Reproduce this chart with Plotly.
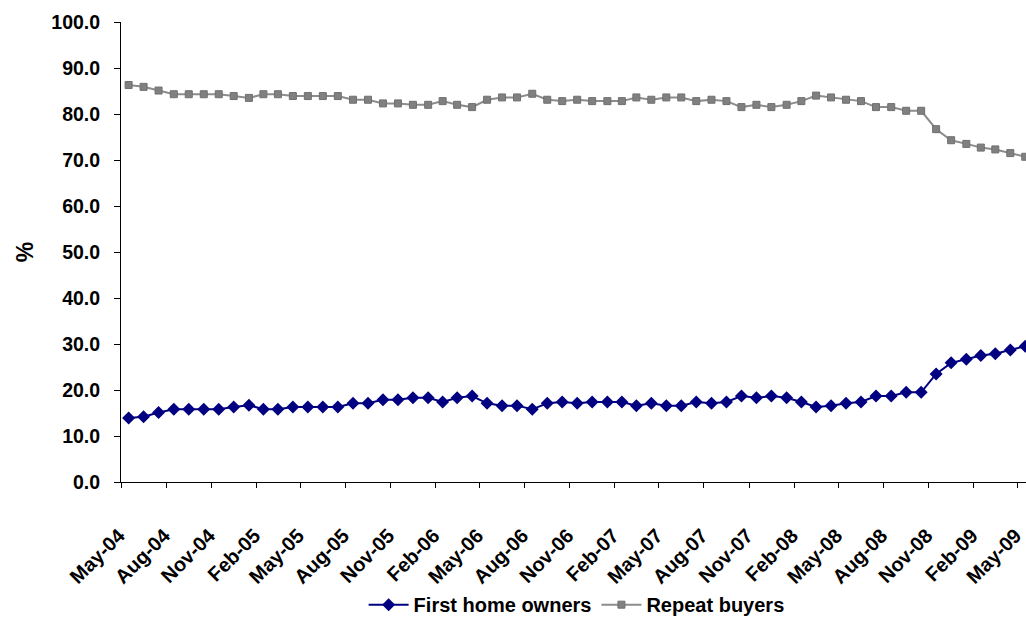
import pandas as pd
import plotly.graph_objects as go

# Monthly share of buyers, May 2004 - May 2009 (%)
start_month = "2004-05-01"
n_months = 61

first_home_owners = [
    13.9, 14.2, 15.1, 15.8, 15.8, 15.8, 15.8, 16.3, 16.7, 15.8,
    15.8, 16.3, 16.3, 16.3, 16.3, 17.1, 17.1, 17.9, 17.9, 18.3,
    18.3, 17.4, 18.3, 18.7, 17.1, 16.6, 16.6, 15.8, 17.1, 17.4,
    17.1, 17.4, 17.4, 17.4, 16.6, 17.1, 16.6, 16.6, 17.4, 17.1,
    17.4, 18.7, 18.3, 18.7, 18.3, 17.4, 16.3, 16.6, 17.1, 17.4,
    18.7, 18.7, 19.5, 19.5, 23.5, 25.9, 26.7, 27.5, 27.9, 28.7,
    29.5,
]

repeat_buyers = [
    86.3, 85.9, 85.1, 84.3, 84.3, 84.3, 84.3, 83.9, 83.5, 84.3,
    84.3, 83.9, 83.9, 83.9, 83.9, 83.1, 83.1, 82.3, 82.3, 82.0,
    82.0, 82.8, 82.0, 81.5, 83.1, 83.6, 83.6, 84.4, 83.1, 82.8,
    83.1, 82.8, 82.8, 82.8, 83.6, 83.1, 83.6, 83.6, 82.8, 83.1,
    82.8, 81.5, 82.0, 81.5, 82.0, 82.8, 84.0, 83.6, 83.1, 82.8,
    81.5, 81.5, 80.7, 80.7, 76.7, 74.3, 73.5, 72.7, 72.3, 71.5,
    70.7,
]

months = pd.date_range(start_month, periods=n_months, freq="MS")

FONT = "Liberation Sans, Arial, sans-serif"

fig = go.Figure()

fig.add_trace(go.Scatter(
    x=months, y=first_home_owners, name="First home owners",
    mode="lines+markers",
    xperiod="M1", xperiodalignment="middle",
    line=dict(color="#000080", width=2),
    marker=dict(symbol="diamond", size=10, color="#000080"),
))

fig.add_trace(go.Scatter(
    x=months, y=repeat_buyers, name="Repeat buyers",
    mode="lines+markers",
    xperiod="M1", xperiodalignment="middle",
    line=dict(color="#8c8c8c", width=2),
    marker=dict(symbol="square", size=7, color="#808080",
                line=dict(color="#707070", width=1)),
))

fig.update_layout(
    width=1026, height=617,
    margin=dict(l=121, r=0, t=22, b=135, autoexpand=False),
    paper_bgcolor="white", plot_bgcolor="white",
    font=dict(family=FONT, size=20, color="black", weight="bold"),
    showlegend=True,
    legend=dict(
        orientation="h", xref="container", x=0.562, xanchor="center",
        yref="container", y=0.02, yanchor="middle",
        font=dict(family=FONT, size=20, color="black", weight="bold"),
        itemwidth=40, tracegroupgap=0,
    ),
)

fig.update_xaxes(
    type="date",
    range=["2004-05-01", "2009-05-18"],
    tick0="2004-05-01", dtick="M3", tickformat="%b-%y",
    tickangle=-45,
    ticks="outside", ticklen=5, tickcolor="black", tickwidth=1,
    showline=True, linecolor="black", linewidth=1,
    showgrid=False, zeroline=False,
    automargin=False,
    ticklabelstandoff=28,
    ticklabelshift=-2,
    ticklabeloverflow="allow",
    tickfont=dict(family=FONT, size=20, color="black", weight="bold"),
)

fig.update_yaxes(
    range=[0, 100], dtick=10, tickformat=".1f",
    ticks="outside", ticklen=6, tickcolor="black", tickwidth=1,
    showline=True, linecolor="black", linewidth=1,
    showgrid=False, zeroline=False,
    automargin=False,
    ticklabelstandoff=10,
    tickfont=dict(family=FONT, size=19.5, color="black", weight="bold"),
    title=dict(text="%", standoff=11,
               font=dict(family=FONT, size=23, color="black", weight="bold")),
)

fig.write_html("out.html")
